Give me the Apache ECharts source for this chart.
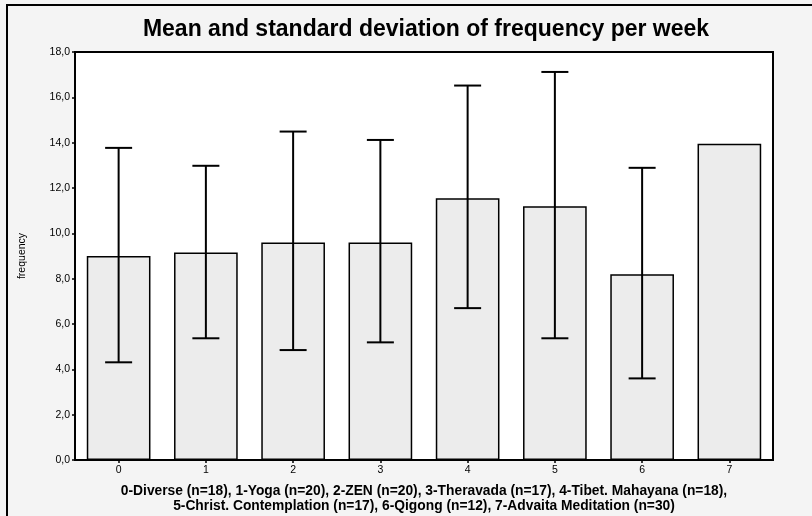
<!DOCTYPE html>
<html>
<head>
<meta charset="utf-8">
<script src="https://cdn.jsdelivr.net/npm/echarts@6/dist/echarts.min.js"></script>
<style>
html,body{margin:0;padding:0;background:#f4f4f4;}
#chart{width:812px;height:516px;}
</style>
</head>
<body>
<div id="chart"></div>
<script>
const categories = ['0', '1', '2', '3', '4', '5', '6', '7'];
const means = [9.0, 9.15, 9.6, 9.6, 11.55, 11.2, 8.2, 13.95];
const upper = [13.77, 12.98, 14.49, 14.12, 16.52, 17.12, 12.89, null];
const lower = [4.31, 5.37, 4.85, 5.19, 6.70, 5.37, 3.60, null];
const yTicks = { min: 0, max: 18, interval: 2 };
const titleText = 'Mean and standard deviation of frequency per week';
const yName = 'frequency';
const xCaption = '0-Diverse (n=18), 1-Yoga (n=20), 2-ZEN (n=20), 3-Theravada (n=17), 4-Tibet. Mahayana (n=18),\n5-Christ. Contemplation (n=17), 6-Qigong (n=12), 7-Advaita Meditation (n=30)';

const errData = [];
categories.forEach((c, i) => {
  if (upper[i] != null && lower[i] != null) errData.push([i, lower[i], upper[i]]);
});

const FONT = 'Liberation Sans, Arial, sans-serif';
const chart = echarts.init(document.getElementById('chart'), null, { renderer: 'canvas' });

chart.setOption({
  backgroundColor: '#f4f4f4',
  animation: false,
  title: {
    text: titleText,
    left: 421,
    textAlign: 'center',
    top: 13,
    textStyle: { fontFamily: FONT, fontSize: 23, fontWeight: 'bold', color: '#000' }
  },
  graphic: [{
    type: 'rect',
    shape: { x: 7, y: 5, width: 820, height: 530 },
    style: { fill: null, stroke: '#000', lineWidth: 2 },
    silent: true,
    z: -1
  }],
  grid: {
    left: 75, right: 39, top: 52, bottom: 56,
    outerBoundsMode: 'none',
    containLabel: false,
    show: true, backgroundColor: '#ffffff', borderColor: '#000', borderWidth: 2
  },
  xAxis: {
    type: 'category',
    data: categories,
    axisLine: { show: true, lineStyle: { color: '#000', width: 2 } },
    axisTick: { show: true, alignWithLabel: true, length: 3, lineStyle: { color: '#000', width: 1.5 } },
    axisLabel: { fontFamily: FONT, fontSize: 10.5, color: '#000', margin: 5 },
    name: xCaption,
    nameLocation: 'middle',
    nameGap: 24,
    nameTextStyle: { fontFamily: FONT, fontSize: 13.8, fontWeight: 'bold', color: '#000', lineHeight: 15, verticalAlign: 'top' }
  },
  yAxis: {
    type: 'value',
    min: yTicks.min, max: yTicks.max, interval: yTicks.interval,
    axisLine: { show: true, lineStyle: { color: '#000', width: 2 } },
    axisTick: { show: true, length: 3, lineStyle: { color: '#000', width: 1.5 } },
    splitLine: { show: false },
    axisLabel: {
      fontFamily: FONT, fontSize: 10.5, color: '#000', margin: 5,
      formatter: v => v.toFixed(1).replace('.', ',')
    },
    name: yName,
    nameLocation: 'middle',
    nameGap: 47,
    nameRotate: 90,
    nameTextStyle: { fontFamily: FONT, fontSize: 10.5, color: '#000' }
  },
  series: [{
    type: 'bar',
    data: means,
    barWidth: '73%',
    itemStyle: { color: '#ececec', borderColor: '#000', borderWidth: 1.5 },
    z: 2
  }, {
    type: 'custom',
    data: errData,
    z: 3,
    renderItem: function (params, api) {
      const i = api.value(0);
      const pLo = api.coord([i, api.value(1)]);
      const pHi = api.coord([i, api.value(2)]);
      const hw = 13.5;
      const st = { stroke: '#000', lineWidth: 2 };
      return {
        type: 'group',
        children: [
          { type: 'line', shape: { x1: pHi[0], y1: pHi[1], x2: pLo[0], y2: pLo[1] }, style: st },
          { type: 'line', shape: { x1: pHi[0] - hw, y1: pHi[1], x2: pHi[0] + hw, y2: pHi[1] }, style: st },
          { type: 'line', shape: { x1: pLo[0] - hw, y1: pLo[1], x2: pLo[0] + hw, y2: pLo[1] }, style: st }
        ]
      };
    }
  }]
});
</script>
</body>
</html>
